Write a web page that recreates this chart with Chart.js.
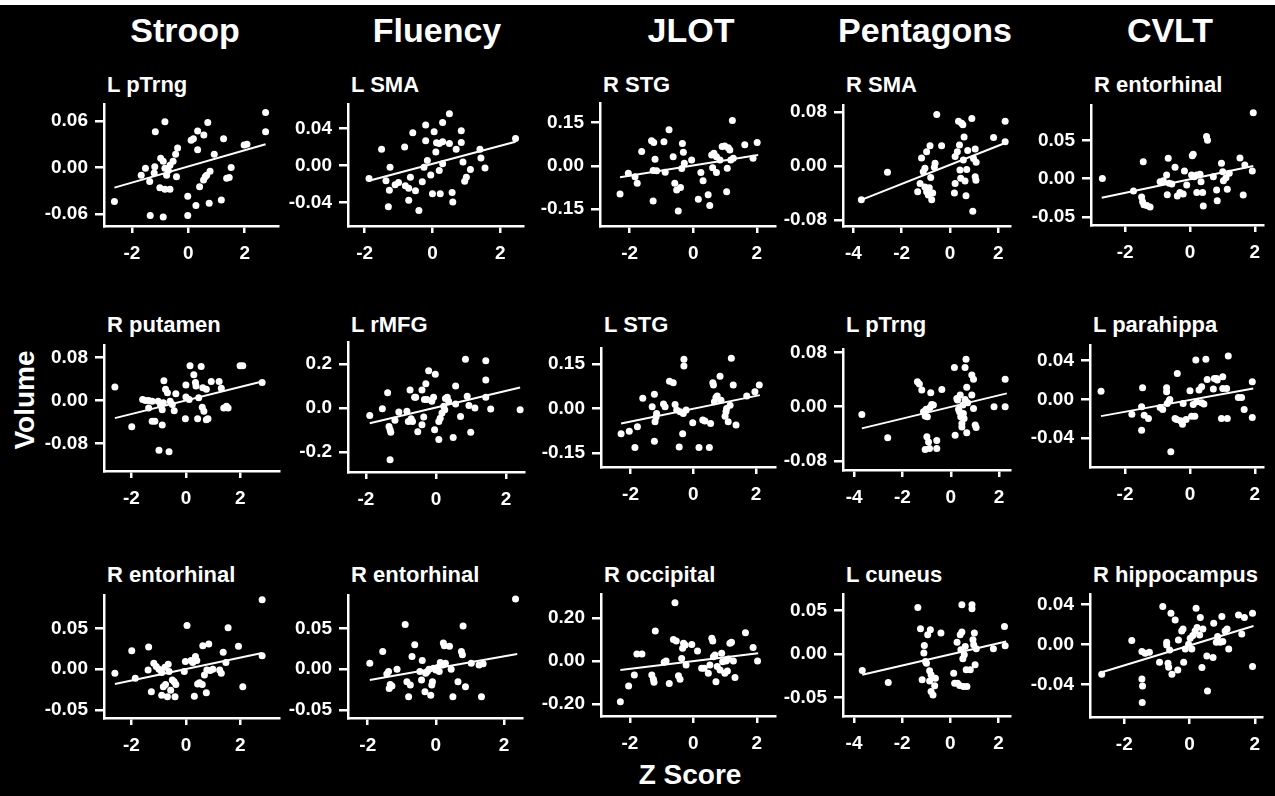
<!DOCTYPE html>
<html>
<head>
<meta charset="utf-8">
<script src="https://cdn.jsdelivr.net/npm/chart.js@4.4.1/dist/chart.umd.min.js"></script>
<style>
    body { margin: 0; background: #fff; }
    #fig { position: absolute; left: 0; top: 0; width: 1275px; height: 796px; background: #000; overflow: hidden;
           font-family: "Liberation Sans", Arial, sans-serif; font-weight: bold; color: #fff; }
    #topStrip { position: absolute; left: 0; top: 0; width: 1275px; height: 5px; background: #fff; }
    .txt { position: absolute; white-space: nowrap; line-height: 1; }
    canvas { position: absolute; }
</style>
</head>
<body>
<div id="fig"></div>
<div id="topStrip"></div>
<script>
// Column headers (test) and panel titles (region), row by row
const columnNames = ['Stroop', 'Fluency', 'JLOT', 'Pentagons', 'CVLT'];
const panelTitles = [
    'L pTrng', 'L SMA', 'R STG', 'R SMA', 'R entorhinal',
    'R putamen', 'L rMFG', 'L STG', 'L pTrng', 'L parahippa',
    'R entorhinal', 'R entorhinal', 'R occipital', 'L cuneus', 'R hippocampus'
];

// x tick labels per column, y tick labels per panel
const xTicksByColumn = [[-2, 0, 2], [-2, 0, 2], [-2, 0, 2], [-4, -2, 0, 2], [-2, 0, 2]];
const yTicks = [
    [-0.06, 0, 0.06], [-0.04, 0, 0.04], [-0.15, 0, 0.15], [-0.08, 0, 0.08], [-0.05, 0, 0.05],
    [-0.08, 0, 0.08], [-0.2, 0, 0.2], [-0.15, 0, 0.15], [-0.08, 0, 0.08], [-0.04, 0, 0.04],
    [-0.05, 0, 0.05], [-0.05, 0, 0.05], [-0.2, 0, 0.2], [-0.05, 0, 0.05], [-0.04, 0, 0.04]
];
const yDecimals = [2, 2, 2, 2, 2, 2, 1, 2, 2, 2, 2, 2, 2, 2, 2];

// Axis ranges [xMin, xMax, yMin, yMax]
const axisRanges = [
    [-2.99, 3.18, -0.0755, 0.0819], [-2.49, 2.67, -0.0656, 0.0667], [-2.93, 2.57, -0.208, 0.218],
    [-4.43, 2.48, -0.0886, 0.0901], [-3.05, 2.25, -0.0604, 0.0961],
    [-3.01, 3.42, -0.1318, 0.1037], [-2.51, 2.51, -0.2896, 0.2986], [-2.94, 2.60, -0.1975, 0.2039],
    [-4.46, 2.45, -0.0934, 0.0852], [-3.08, 2.25, -0.0697, 0.0562],
    [-3.01, 3.42, -0.0595, 0.0906], [-2.58, 2.53, -0.0595, 0.0906], [-2.91, 2.57, -0.2549, 0.3105],
    [-4.46, 2.48, -0.0712, 0.0692], [-3.05, 2.22, -0.0727, 0.0503]
];

// Z score / volume pairs
const stroopPTrng = [[-2.62,-0.044],[2.74,0.071],[2.74,0.046],[-1.17,0.046],[-0.83,0.059],[-1.52,-0.001],[-1.67,-0.010],[-1.37,-0.018],[-1.21,-0.007],[-1.19,0.001],[-0.98,0.012],[-0.89,0.008],[-0.83,-0.001],[-0.71,-0.004],[-0.65,0.003],[-0.77,-0.010],[-0.54,0.008],[-0.45,0.017],[-0.38,0.025],[-0.42,-0.012],[-1.01,-0.026],[-0.83,-0.028],[-0.65,-0.028],[-1.35,-0.062],[-0.89,-0.064],[0.10,0.035],[0.18,0.037],[0.33,0.047],[0.55,0.042],[0.69,0.058],[0.33,0.023],[1.25,0.037],[0.92,0.017],[0.40,-0.025],[-0.02,-0.037],[0.27,-0.049],[-0.02,-0.062],[0.74,-0.046],[1.17,-0.042],[0.54,-0.016],[0.65,-0.010],[0.77,-0.005],[0.60,-0.012],[1.36,-0.014],[1.45,-0.013],[1.52,0.000],[1.98,0.029],[2.08,0.030]];
const fluencySMA = [[-1.87,-0.014],[-1.50,0.0176],[-1.37,-0.0165],[-1.25,-0.0018],[-1.30,-0.0448],[-1.27,-0.0268],[-1.10,-0.0209],[-1.00,-0.0183],[-0.82,0.0202],[-0.80,-0.022],[-0.70,-0.0246],[-0.65,-0.0128],[-0.70,-0.0378],[-0.58,0.0356],[-0.50,-0.0275],[-0.40,-0.0488],[-0.30,-0.0176],[-0.25,-0.0018],[-0.20,0.044],[-0.20,0.0268],[-0.15,0.0055],[-0.05,-0.0103],[0.00,-0.0305],[0.05,0.0367],[0.10,0.0147],[0.12,0.0246],[0.20,0.0239],[0.20,-0.0055],[0.23,-0.0305],[0.30,0.0466],[0.30,0.0257],[0.30,0.0018],[0.50,0.0561],[0.50,0.0239],[0.58,-0.0294],[0.60,-0.0396],[0.70,0.0176],[0.85,0.0378],[0.85,0.025],[0.90,0.0037],[0.95,-0.0172],[1.00,-0.0128],[1.12,-0.0044],[1.40,0.0176],[1.43,0.0081],[1.55,-0.0026],[2.45,0.0294]];
const jlotSTG = [[-2.30,-0.097],[-2.04,-0.025],[-1.83,-0.037],[-1.76,-0.060],[-1.62,0.050],[-1.31,0.087],[-1.24,0.081],[-1.20,0.023],[-1.26,-0.016],[-1.26,-0.121],[-1.15,-0.017],[-0.92,0.084],[-0.88,-0.022],[-0.76,0.125],[-0.63,0.032],[-0.58,-0.060],[-0.52,-0.083],[-0.47,-0.156],[-0.34,0.078],[-0.31,0.047],[-0.40,-0.075],[-0.28,0.009],[-0.36,-0.009],[-0.05,0.021],[0.16,-0.115],[0.24,-0.023],[0.31,-0.051],[0.47,-0.100],[0.52,-0.137],[0.58,0.038],[0.61,-0.006],[0.65,0.044],[0.73,0.032],[0.73,-0.023],[0.84,0.021],[0.91,0.067],[0.99,0.069],[1.05,-0.089],[1.07,-0.008],[1.10,0.063],[1.15,0.055],[1.18,0.021],[1.23,0.157],[1.26,0.027],[1.62,0.073],[1.88,0.027],[2.01,0.081]];
const pentagonsSMA = [[-3.67,-0.050],[-2.59,-0.0094],[-1.34,-0.038],[-1.24,-0.026],[-1.18,0.012],[-1.11,-0.0084],[-1.04,-0.0034],[-0.97,0.021],[-1.04,-0.031],[-0.97,-0.038],[-0.90,-0.043],[-0.86,-0.032],[-0.83,0.030],[-0.80,-0.017],[-0.76,-0.050],[-0.72,-0.040],[-0.65,-0.002],[-0.55,0.076],[-0.62,0.0039],[-0.35,0.030],[0.21,0.014],[0.21,-0.026],[0.18,-0.040],[0.30,0.021],[0.39,0.031],[0.35,0.066],[0.41,-0.006],[0.44,-0.018],[0.48,0.063],[0.53,0.061],[0.55,0.0089],[0.58,0.043],[0.62,-0.022],[0.66,-0.044],[0.69,-0.005],[0.73,0.023],[0.90,0.070],[0.94,-0.067],[0.97,0.011],[1.04,0.025],[1.04,-0.016],[1.07,-0.021],[1.08,0.0054],[1.80,0.042],[2.28,0.066],[2.28,0.036]];
const cvltEntorhinal = [[-2.70,0.0004],[-1.74,-0.016],[-1.44,0.022],[-1.49,-0.024],[-1.46,-0.030],[-1.42,-0.034],[-1.33,-0.035],[-1.23,-0.037],[-0.92,-0.0039],[-0.82,-0.0026],[-0.72,0.0048],[-0.67,0.0265],[-0.70,-0.021],[-0.64,-0.0061],[-0.56,-0.007],[-0.46,0.0148],[-0.39,-0.0226],[-0.31,-0.018],[-0.21,-0.020],[-0.17,0.010],[-0.10,-0.0083],[0.05,0.0048],[0.07,0.030],[0.10,0.032],[0.13,0.0026],[0.21,0.0048],[0.21,-0.018],[0.31,0.0057],[0.34,-0.0039],[0.39,-0.018],[0.41,-0.0357],[0.51,0.055],[0.54,0.050],[0.72,0.0026],[0.82,-0.0148],[0.84,-0.0287],[0.97,0.020],[1.01,0.0091],[1.03,-0.0026],[1.11,0.0013],[1.15,-0.0139],[1.21,0.007],[1.54,0.027],[1.64,-0.0213],[1.69,0.0178],[1.92,0.010],[1.95,0.086]];
const stroopPutamen = [[-2.61,0.0253],[-1.99,-0.049],[-1.59,0.0019],[-1.49,0.0],[-1.37,0.0],[-1.37,-0.0139],[-1.24,-0.0013],[-1.24,-0.039],[-1.14,-0.039],[-1.02,-0.0013],[-0.99,-0.093],[-0.93,-0.0095],[-0.89,-0.0063],[-0.87,-0.0171],[-0.83,-0.0044],[-0.81,0.0367],[-0.87,-0.0456],[-0.75,0.0209],[-0.68,0.0146],[-0.62,-0.096],[-0.58,-0.0013],[-0.50,-0.0076],[-0.43,-0.019],[-0.37,0.0127],[-0.02,-0.0342],[0.00,0.0063],[0.00,0.0291],[0.12,0.0019],[0.15,0.065],[0.29,0.048],[0.35,0.0335],[0.37,0.0272],[0.43,-0.0342],[0.47,0.0051],[0.56,0.0633],[0.60,-0.0127],[0.62,0.024],[0.66,-0.0203],[0.75,-0.0361],[0.81,-0.0342],[0.75,0.0209],[0.93,0.0354],[1.22,0.0354],[1.30,0.0228],[1.39,-0.0139],[1.49,-0.0108],[1.55,-0.0139],[1.99,0.065],[2.09,0.065],[2.80,0.0335]];
const fluencyRMFG = [[-1.89,-0.034],[-1.53,-0.003],[-1.38,0.069],[-1.34,-0.084],[-1.31,-0.099],[-1.29,-0.110],[-1.31,-0.234],[-1.17,-0.056],[-1.06,-0.018],[-0.83,-0.015],[-0.79,-0.061],[-0.74,0.081],[-0.71,-0.049],[-0.67,-0.061],[-0.61,0.049],[-0.58,0.049],[-0.52,-0.107],[-0.40,-0.076],[-0.35,-0.041],[-0.40,0.081],[-0.33,0.038],[-0.29,0.110],[-0.21,0.168],[-0.02,0.153],[-0.26,0.038],[-0.12,0.031],[-0.07,0.049],[-0.04,-0.099],[0.08,-0.142],[0.08,-0.061],[0.12,-0.046],[0.17,-0.023],[0.22,0.008],[0.25,-0.008],[0.27,0.043],[0.32,0.049],[0.36,0.031],[0.49,-0.134],[0.56,0.018],[0.56,0.099],[0.70,-0.038],[0.84,0.221],[0.89,0.053],[0.94,0.011],[0.99,-0.110],[1.11,0.0],[1.42,0.214],[1.42,0.127],[1.42,0.049],[1.56,-0.005],[2.40,-0.008]];
const jlotLSTG = [[-2.30,-0.085],[-2.04,-0.077],[-1.86,-0.132],[-1.78,-0.062],[-1.61,0.034],[-1.31,0.0056],[-1.24,0.048],[-1.24,-0.111],[-1.22,-0.045],[-1.19,-0.030],[-1.17,-0.017],[-0.95,0.0147],[-0.90,0.0056],[-0.76,0.092],[-0.64,0.087],[-0.58,0.0135],[-0.53,-0.0056],[-0.42,-0.0113],[-0.45,-0.130],[-0.34,-0.085],[-0.32,-0.017],[-0.30,0.166],[-0.30,0.143],[-0.23,-0.0056],[-0.02,-0.0485],[0.18,-0.132],[0.30,-0.039],[0.37,-0.042],[0.51,-0.132],[0.55,-0.051],[0.62,0.087],[0.64,0.079],[0.67,0.0226],[0.72,0.037],[0.76,0.042],[0.85,0.109],[0.88,0.028],[1.01,-0.026],[1.04,-0.0113],[1.06,0.0],[1.11,-0.045],[1.17,0.011],[1.21,0.169],[1.27,0.079],[1.36,-0.056],[1.70,0.042],[1.96,0.056],[2.10,0.079]];
const pentagonsPTrng = [[-3.68,-0.0113],[-2.61,-0.0458],[-1.38,0.037],[-1.30,0.0335],[-1.20,0.0246],[-1.13,-0.0074],[-1.06,-0.0138],[-1.02,-0.0039],[-0.99,-0.0443],[-0.97,-0.0148],[-1.06,-0.063],[-0.88,-0.0616],[-0.92,-0.052],[-0.86,-0.001],[-0.83,0.0207],[-0.79,0.0034],[-0.72,0.0025],[-0.58,-0.050],[-0.58,-0.0616],[-0.37,0.0256],[0.15,0.058],[0.18,-0.042],[0.25,0.0123],[0.28,0.0099],[0.32,-0.0039],[0.36,-0.0074],[0.39,0.0172],[0.41,-0.0148],[0.46,-0.0246],[0.46,-0.030],[0.50,0.0025],[0.52,-0.0099],[0.55,-0.0172],[0.59,0.058],[0.59,0.0108],[0.63,0.070],[0.66,0.0286],[0.66,-0.0384],[0.70,0.0059],[0.87,0.0172],[0.87,0.0468],[0.94,0.0404],[0.94,-0.0025],[1.01,-0.0271],[1.05,-0.0305],[1.79,0.0],[2.25,0.0404],[2.25,0.0]];
const cvltParahippa = [[-2.74,0.0086],[-1.79,-0.0152],[-1.49,-0.0076],[-1.46,0.0121],[-1.49,-0.0317],[-1.41,-0.0162],[-1.28,-0.0197],[-0.92,-0.0083],[-0.84,-0.0103],[-0.72,0.0121],[-0.72,0.0079],[-0.70,-0.0041],[-0.64,-0.0014],[-0.62,0.0],[-0.59,-0.054],[-0.46,-0.0197],[-0.41,-0.0207],[-0.39,0.0269],[-0.29,-0.0221],[-0.23,-0.0255],[-0.21,-0.0041],[-0.12,-0.0207],[0.00,0.009],[0.05,-0.0172],[0.10,-0.0052],[0.15,-0.0172],[0.18,0.0407],[0.21,-0.0024],[0.28,0.0097],[0.36,0.0131],[0.36,-0.0034],[0.43,-0.0048],[0.49,0.0414],[0.53,0.0207],[0.72,0.0107],[0.75,0.0217],[0.82,0.0217],[0.84,0.020],[0.97,-0.0197],[1.01,0.0234],[1.01,0.0114],[1.13,0.0114],[1.15,-0.0197],[1.18,0.0448],[1.49,0.0021],[1.59,0.0021],[1.67,-0.0103],[1.92,0.0183],[1.92,-0.0186]];
const stroopEntorhinal = [[-2.61,-0.0049],[-1.99,0.0226],[-1.86,-0.0111],[-1.37,0.0272],[-1.39,-0.0008],[-1.27,-0.0276],[-1.18,0.0074],[-1.09,0.0033],[-0.99,0.0],[-0.89,-0.0041],[-0.89,-0.0317],[-0.83,-0.0214],[-0.77,0.0025],[-0.75,-0.0185],[-0.68,-0.0337],[-0.65,0.0062],[-0.62,-0.0029],[-0.56,-0.0255],[-0.50,-0.0132],[-0.43,-0.0152],[-0.40,-0.0337],[-0.37,-0.0185],[-0.06,-0.0029],[-0.02,0.0095],[0.04,0.0535],[0.19,0.0107],[0.25,0.0082],[0.31,-0.0329],[0.35,0.0156],[0.40,0.0107],[0.43,-0.0181],[0.50,-0.0165],[0.60,-0.0185],[0.62,0.0288],[0.68,-0.007],[0.75,-0.0288],[0.77,-0.0008],[0.84,0.0309],[0.89,-0.0016],[0.99,0.0],[1.24,-0.0008],[1.30,-0.0049],[1.37,0.0206],[1.47,0.0082],[1.55,0.0506],[1.93,0.028],[2.09,-0.0214],[2.80,0.0848],[2.80,0.0165]];
const fluencyEntorhinal = [[-1.94,0.0074],[-1.56,0.0218],[-1.44,-0.0058],[-1.39,-0.0029],[-1.37,-0.0235],[-1.34,-0.0185],[-1.29,-0.0206],[-1.14,0.0],[-0.90,0.0547],[-0.85,-0.0152],[-0.80,-0.0337],[-0.75,-0.0193],[-0.70,0.0156],[-0.62,0.030],[-0.47,-0.0029],[-0.42,-0.0132],[-0.40,0.0107],[-0.32,-0.0276],[-0.30,-0.0049],[-0.25,-0.0029],[-0.20,0.0],[-0.15,-0.0317],[-0.12,-0.0193],[-0.10,-0.0152],[-0.07,0.0012],[0.00,-0.0008],[0.05,0.0021],[0.10,-0.0029],[0.13,0.0082],[0.20,0.0053],[0.22,0.0321],[0.25,0.0288],[0.28,0.0074],[0.40,0.028],[0.45,0.0],[0.50,-0.0337],[0.65,-0.0152],[0.75,0.0218],[0.78,0.0177],[0.80,0.0527],[0.87,-0.0214],[1.04,0.0074],[1.27,0.0053],[1.34,-0.0337],[1.39,0.0066],[2.34,0.0856]];
const jlotOccipital = [[-2.30,-0.189],[-2.04,-0.116],[-1.86,-0.065],[-1.78,0.032],[-1.62,0.032],[-1.31,-0.065],[-1.26,-0.085],[-1.24,-0.099],[-1.20,0.139],[-0.92,-0.006],[-0.86,0.0],[-0.76,-0.104],[-0.63,0.100],[-0.58,0.270],[-0.54,0.093],[-0.47,-0.068],[-0.42,-0.085],[-0.37,0.012],[-0.34,0.059],[-0.31,0.082],[-0.26,0.074],[-0.23,-0.019],[-0.05,0.077],[0.13,0.046],[0.26,-0.034],[0.34,-0.034],[0.47,-0.057],[0.52,-0.019],[0.58,0.105],[0.61,0.093],[0.63,0.020],[0.68,0.028],[0.71,-0.096],[0.75,-0.026],[0.84,-0.042],[0.89,0.036],[0.92,-0.003],[0.99,-0.057],[1.03,0.0],[1.07,-0.046],[1.10,0.009],[1.15,0.082],[1.20,0.087],[1.26,0.0],[1.31,-0.077],[1.64,0.131],[1.88,0.062],[2.02,0.0]];
const pentagonsCuneus = [[-3.66,-0.0188],[-2.58,-0.0327],[-1.35,0.0538],[-1.24,0.0292],[-1.17,-0.0296],[-1.10,0.0012],[-1.08,0.010],[-1.03,-0.0085],[-0.99,-0.0104],[-0.94,0.0223],[-0.86,-0.0192],[-0.83,0.0281],[-0.80,-0.0238],[-0.86,-0.0308],[-0.80,-0.0431],[-0.72,-0.0469],[-0.65,-0.0365],[-0.62,-0.0277],[-0.39,0.0242],[0.14,-0.0219],[0.18,-0.0335],[0.28,0.0138],[0.30,-0.0335],[0.39,-0.0362],[0.41,0.0223],[0.44,0.005],[0.48,0.0254],[0.48,0.0569],[0.52,-0.0054],[0.55,-0.0373],[0.58,-0.0008],[0.62,0.0088],[0.66,-0.0181],[0.69,-0.0373],[0.83,-0.0181],[0.90,0.0569],[0.90,0.0523],[0.94,0.0165],[0.97,0.0108],[1.00,0.0242],[1.03,-0.0123],[1.08,0.0062],[1.79,0.0062],[2.25,0.0319],[2.28,0.0096]];
const cvltHippocampus = [[-2.69,-0.030],[-1.77,0.0037],[-1.46,-0.0073],[-1.46,-0.0347],[-1.44,-0.0417],[-1.45,-0.0583],[-1.36,-0.009],[-1.23,-0.008],[-0.92,-0.018],[-0.82,0.0377],[-0.70,0.002],[-0.70,-0.0007],[-0.66,-0.019],[-0.64,-0.023],[-0.61,-0.0057],[-0.57,0.031],[-0.54,-0.030],[-0.44,0.0243],[-0.36,-0.0257],[-0.34,0.0043],[-0.24,0.0133],[-0.20,0.0153],[-0.18,-0.018],[-0.13,-0.0047],[-0.03,0.0],[0.02,0.006],[0.07,-0.0047],[0.10,0.0087],[0.17,0.0133],[0.20,0.036],[0.23,0.0167],[0.31,0.0093],[0.33,0.0267],[0.38,-0.0233],[0.41,0.0153],[0.53,-0.0117],[0.55,-0.0467],[0.72,-0.0133],[0.74,0.021],[0.82,0.002],[0.86,0.0077],[0.94,0.002],[0.99,0.0277],[1.02,0.0027],[1.09,0.0133],[1.15,0.0153],[1.20,-0.0047],[1.50,0.0293],[1.60,0.0103],[1.68,0.0267],[1.93,0.031],[1.93,-0.0223]];

// Regression line ends [x0, y0, x1, y1]
const fitLines = [
    [-2.62, -0.026, 2.74, 0.030], [-1.87, -0.0165, 2.45, 0.0257], [-2.30, -0.039, 2.04, 0.038],
    [-3.67, -0.050, 2.28, 0.034], [-2.72, -0.0248, 1.95, 0.0165],
    [-2.61, -0.033, 2.80, 0.0354], [-1.89, -0.069, 2.40, 0.093], [-2.30, -0.051, 2.12, 0.045],
    [-3.68, -0.032, 2.32, 0.0197], [-2.74, -0.0172, 1.95, 0.0114],
    [-2.61, -0.0181, 2.80, 0.0198], [-1.94, -0.0132, 2.39, 0.0185], [-2.30, -0.042, 2.04, 0.036],
    [-3.66, -0.0238, 2.32, 0.0146], [-2.69, -0.028, 1.96, 0.0183]
];

const panelData = [
    stroopPTrng, fluencySMA, jlotSTG, pentagonsSMA, cvltEntorhinal,
    stroopPutamen, fluencyRMFG, jlotLSTG, pentagonsPTrng, cvltParahippa,
    stroopEntorhinal, fluencyEntorhinal, jlotOccipital, pentagonsCuneus, cvltHippocampus
];

// Plot area of each panel in page pixels [left, top, right, bottom]
const plotBoxes = [
    [104, 104, 278, 226], [348, 104, 523, 226], [600, 103, 775, 226], [843, 105, 1010, 226], [1091, 105, 1263, 225],
    [104, 345, 279, 471], [348, 342, 524, 472], [601, 348, 775, 467], [843, 349, 1010, 470], [1090, 345, 1263, 467],
    [104, 595, 279, 718], [348, 595, 522, 718], [601, 594, 775, 716], [843, 594, 1010, 716], [1090, 594, 1262, 717]
];
const titleBaselines = [93, 333, 583];

const FONT = '"Liberation Sans", Arial, sans-serif';
const fig = document.getElementById('fig');

// Put a text so that its baseline sits at y
function addText(text, x, baseline, size, align) {
    const el = document.createElement('div');
    el.className = 'txt';
    el.textContent = text;
    el.style.fontSize = size + 'px';
    el.style.left = x + 'px';
    el.style.top = (baseline - size * 0.8465) + 'px';
    if (align === 'center') el.style.transform = 'translateX(-50%)';
    fig.appendChild(el);
    return el;
}

function drawLabels() {
    const headerX = [185, 437, 691, 925, 1170];
    columnNames.forEach((name, i) => addText(name, headerX[i], 42, 34, 'center'));

    panelTitles.forEach((title, i) => {
        addText(title, plotBoxes[i][0] + 3, titleBaselines[Math.floor(i / 5)], 22);
    });

    addText('Z Score', 690, 785, 28, 'center');

    const vol = document.createElement('div');
    vol.className = 'txt';
    vol.textContent = 'Volume';
    vol.style.fontSize = '28px';
    vol.style.left = '25px';
    vol.style.top = '400px';
    vol.style.transform = 'translate(-50%, -50%) rotate(-90deg)';
    fig.appendChild(vol);
}

function drawPanel(i) {
    const PADL = 100, PADT = 20, PADR = 20, PADB = 45;
    const box = plotBoxes[i];
    const range = axisRanges[i];
    const xt = xTicksByColumn[i % 5];
    const yt = yTicks[i];
    const fit = fitLines[i];

    const canvas = document.createElement('canvas');
    canvas.width = box[2] - box[0] + PADL + PADR;
    canvas.height = box[3] - box[1] + PADT + PADB;
    canvas.style.left = (box[0] - PADL) + 'px';
    canvas.style.top = (box[1] - PADT) + 'px';
    fig.appendChild(canvas);

    const tickFont = { family: FONT, size: 19, weight: 'bold' };
    const axisLine = { color: '#fff', width: 2.5 };

    new Chart(canvas, {
        type: 'scatter',
        data: {
            datasets: [{
                type: 'line',
                data: [{ x: fit[0], y: fit[1] }, { x: fit[2], y: fit[3] }],
                borderColor: '#fff',
                borderWidth: 2,
                pointRadius: 0,
                fill: false
            }, {
                data: panelData[i].map(p => ({ x: p[0], y: p[1] })),
                backgroundColor: '#fff',
                borderColor: '#fff',
                borderWidth: 0,
                pointRadius: 3.5
            }]
        },
        options: {
            responsive: false,
            animation: false,
            devicePixelRatio: 1,
            layout: { padding: { left: 0, top: PADT, right: PADR, bottom: 0 } },
            plugins: { legend: { display: false }, tooltip: { enabled: false } },
            scales: {
                x: {
                    type: 'linear',
                    min: range[0],
                    max: range[1],
                    afterBuildTicks: s => { s.ticks = xt.map(v => ({ value: v })); },
                    afterFit: s => { s.height = PADB; },
                    border: axisLine,
                    grid: { drawOnChartArea: false, drawTicks: true, tickLength: 7, color: '#fff', lineWidth: 2.5 },
                    ticks: { color: '#fff', font: tickFont, padding: 9, maxRotation: 0, autoSkip: false,
                             callback: v => String(v) }
                },
                y: {
                    type: 'linear',
                    min: range[2],
                    max: range[3],
                    afterBuildTicks: s => { s.ticks = yt.map(v => ({ value: v })); },
                    afterFit: s => { s.width = PADL; },
                    border: axisLine,
                    grid: { drawOnChartArea: false, drawTicks: true, tickLength: 9, color: '#fff', lineWidth: 2.5 },
                    ticks: { color: '#fff', font: tickFont, padding: 7, autoSkip: false,
                             callback: v => v.toFixed(yDecimals[i]) }
                }
            }
        }
    });
}

drawLabels();
panelData.forEach((d, i) => drawPanel(i));
</script>
</body>
</html>
